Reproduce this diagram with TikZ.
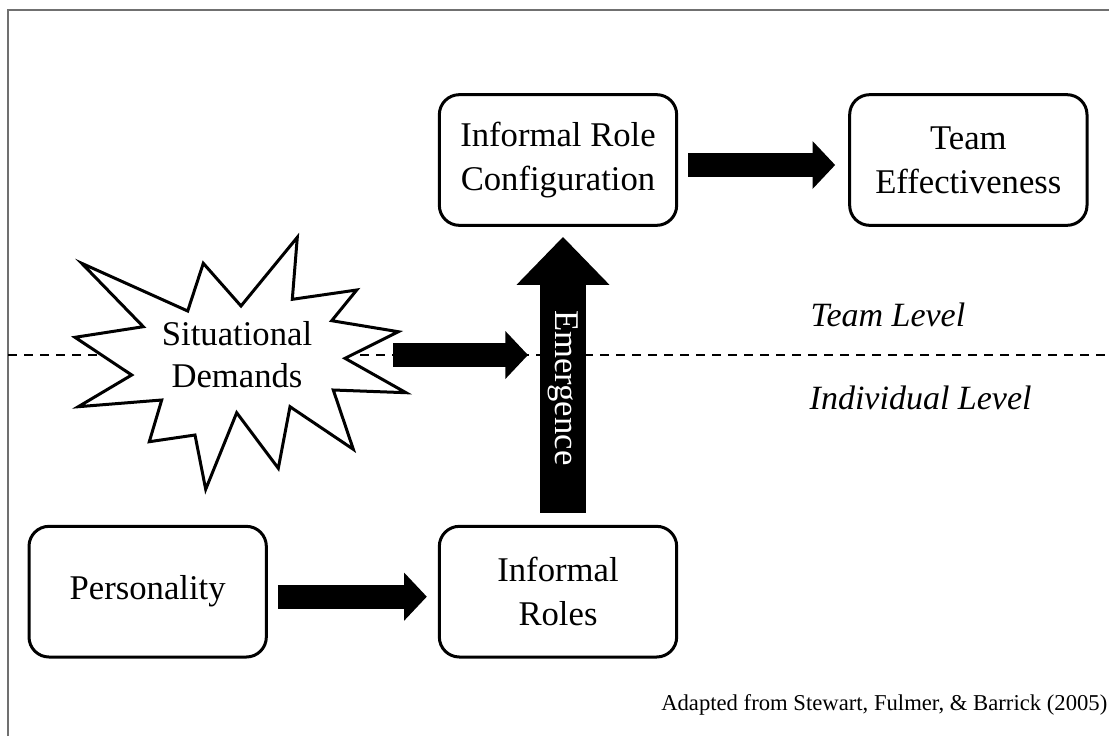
\documentclass[tikz,border=0pt]{standalone}
\usepackage{fontspec}
\setmainfont{Liberation Serif}
\usetikzlibrary{arrows.meta,positioning}
\definecolor{framegray}{RGB}{112,112,112}

\begin{document}
\begin{tikzpicture}[x=0.75pt,y=-0.75pt, node distance=223.5pt and 127.5pt, every node/.style={font=\fontsize{26}{33}\selectfont,align=center}, box/.style={draw,line width=2.25pt,rounded corners=15pt,minimum width=178pt,minimum height=98pt}, blockarr/.style={-{Triangle[length=17pt,width=35pt]},line width=18pt}, bigarr/.style={-{Triangle[length=36pt,width=67.5pt]},line width=34pt}, lvl/.style={font=\fontsize{25.5}{30}\selectfont\itshape,anchor=base west}]
  \useasboundingbox (0,0) rectangle (1109,736);
  \draw[framegray,line width=1.5pt] (8,736) -- (8,10) -- (1109,10);
  % level divider
  \draw[line width=1.5pt,dash pattern=on 6.75pt off 5.25pt] (8,355) -- (1109,355);
  \node[lvl] (teamlvl) at (806,326) {Team Level};
  \node[lvl] (indlvl) at (805,409) {Individual Level};
  % boxes
  \node[box] (conf) at (558,160) {Informal Role\\Configuration};
  \node[box,right=of conf] (team) {Team\\Effectiveness};
  \node[box,below=of conf] (roles) {Informal\\Roles};
  \node[box,left=of roles] (pers) {Personality};
  % starburst
  \draw[line width=2.25pt,fill=white] (81.7,263.3) -- (187.7,311) -- (203.3,263.3) -- (241,306) -- (297.3,237.3) -- (292.3,299.3) -- (356.7,290) -- (331.7,320.7) -- (398.3,331.7) -- (345,358.3) -- (406,392.7) -- (333.3,390) -- (353.3,449.3) -- (290,406.7) -- (278.3,468.3) -- (236.7,412.7) -- (205.7,489.3) -- (195,435) -- (149.3,441.7) -- (161.7,400) -- (78.3,406.7) -- (131.7,375) -- (75,337.3) -- (143.3,326.7) -- cycle;
  \node[font=\fontsize{26}{31.5}\selectfont] (sit) at (237,355) {Situational\\Demands};
  \coordinate (sitE) at (393,355);
  \coordinate (emergW) at (528,355);
  % arrows
  \draw[blockarr,shorten <=7.5pt,shorten >=9.75pt] ([yshift=-3.75pt]conf.east) -- ([yshift=-3.75pt]team.west);
  \draw[blockarr,shorten <=7.5pt,shorten >=8.25pt] ([yshift=-3.75pt]pers.east) -- ([yshift=-3.75pt]roles.west);
  \draw[bigarr,shorten <=9pt,shorten >=7.5pt] ([xshift=3.75pt]roles.north) -- node[pos=0.46,rotate=-90,text=white] (emerg) {Emergence} ([xshift=3.75pt]conf.south);
  \draw[blockarr] (sitE) -- (emergW);
  \node[font=\fontsize{17}{20}\selectfont,anchor=base east] (cite) at (1112,710) {Adapted from Stewart, Fulmer, \& Barrick (2005)};
\end{tikzpicture}
\end{document}
